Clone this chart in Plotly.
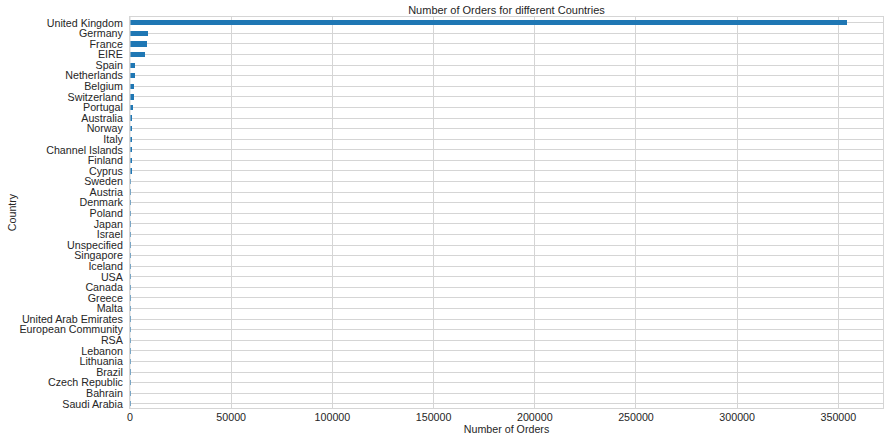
import plotly.graph_objects as go

countries = [
    "United Kingdom", "Germany", "France", "EIRE", "Spain", "Netherlands",
    "Belgium", "Switzerland", "Portugal", "Australia", "Norway", "Italy",
    "Channel Islands", "Finland", "Cyprus", "Sweden", "Austria", "Denmark",
    "Poland", "Japan", "Israel", "Unspecified", "Singapore", "Iceland", "USA",
    "Canada", "Greece", "Malta", "United Arab Emirates", "European Community",
    "RSA", "Lebanon", "Lithuania", "Brazil", "Czech Republic", "Bahrain",
    "Saudi Arabia",
]
orders = [
    354345, 9042, 8342, 7238, 2485, 2363, 2031, 1842, 1462, 1185, 1072, 758,
    748, 685, 614, 451, 398, 380, 330, 321, 248, 244, 222, 182, 179, 151, 145,
    112, 68, 60, 58, 45, 35, 32, 25, 17, 9,
]
x_ticks = [0, 50000, 100000, 150000, 200000, 250000, 300000, 350000]

text_col = "#262626"
grid_col = "#d5d5d5"
font = "Liberation Sans, Arial, sans-serif"

# smallest count at the bottom, largest at the top
y_order = countries[::-1]

fig = go.Figure(
    go.Bar(
        x=orders,
        y=countries,
        orientation="h",
        width=0.5,
        marker=dict(color="#1f77b4", line=dict(width=0)),
    )
)

# left spine drawn over the bars so sub-pixel bars stay hidden
fig.add_shape(
    type="line", xref="x", yref="paper", x0=0, x1=0, y0=0, y1=1,
    line=dict(color=grid_col, width=1), layer="above",
)

fig.update_layout(
    width=894,
    height=443,
    margin=dict(l=130, r=11, t=17, b=35),
    paper_bgcolor="white",
    plot_bgcolor="white",
    font=dict(family=font, size=11, color=text_col),
    title=dict(
        text="Number of Orders for different Countries",
        x=0.5, xref="paper", xanchor="center",
        y=1, yref="paper", yanchor="bottom", pad=dict(b=3),
        font=dict(family=font, size=11, color=text_col),
    ),
    showlegend=False,
    bargap=0,
)

fig.update_xaxes(
    range=[0, 372062],
    tickvals=x_ticks,
    ticktext=[str(v) for v in x_ticks],
    showgrid=True, gridcolor=grid_col, gridwidth=1,
    zeroline=False,
    showline=True, linecolor=grid_col, linewidth=1, mirror=True,
    ticks="", ticklen=0, ticklabelstandoff=-1,
    automargin=False,
    title=dict(text="Number of Orders", standoff=0, font=dict(size=10.7)),
    tickfont=dict(size=10.7),
)
fig.update_yaxes(
    type="category",
    categoryorder="array",
    categoryarray=y_order,
    tickmode="array",
    tickvals=y_order,
    ticktext=y_order,
    range=[-0.4, 36.55],
    showgrid=True, gridcolor=grid_col, gridwidth=1,
    zeroline=False,
    showline=True, linecolor=grid_col, linewidth=1, mirror=True,
    ticks="", ticklen=0, ticklabelstandoff=4,
    automargin=False,
    title=dict(text="Country", standoff=0, font=dict(size=10.7)),
    tickfont=dict(size=10.7),
)

fig.write_html("out.html")
